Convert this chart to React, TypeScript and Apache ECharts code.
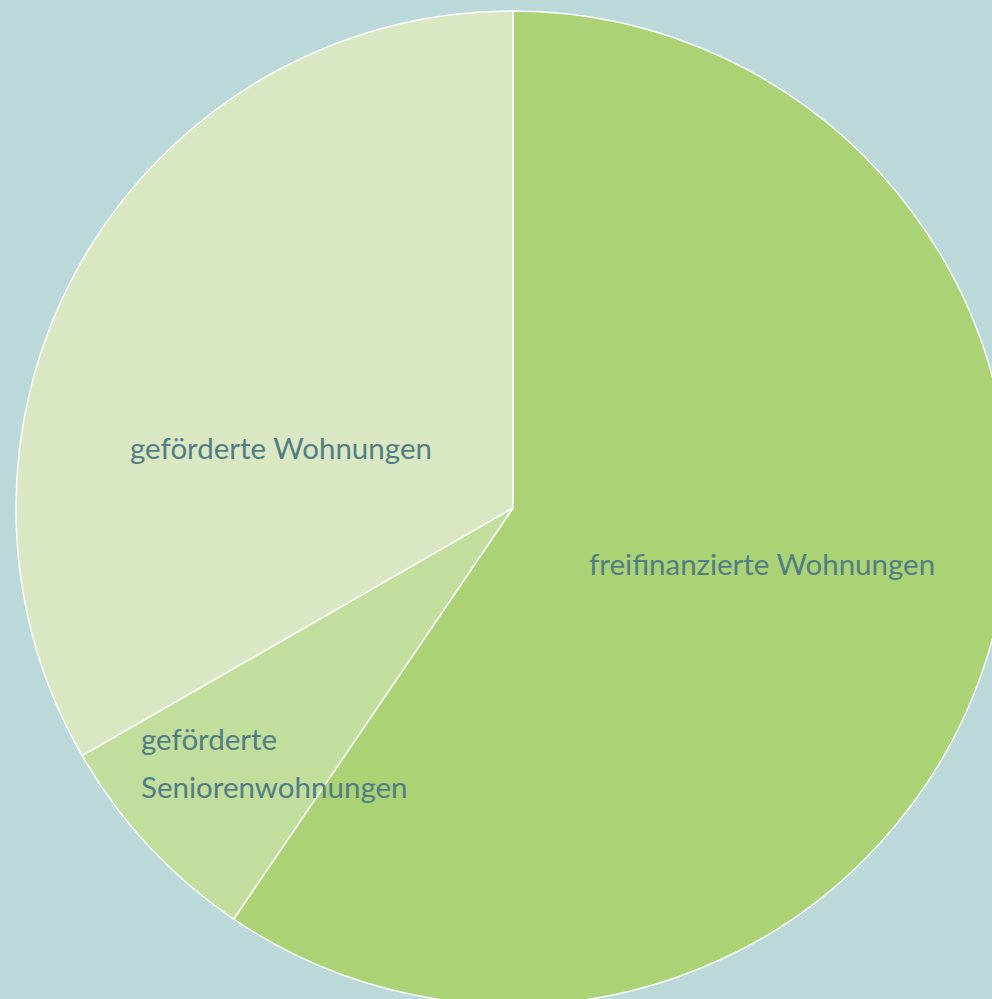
import React, { useEffect, useRef } from "react";
import * as echarts from "echarts";

const categories = ["freifinanzierte Wohnungen", "geförderte\nSeniorenwohnungen", "geförderte Wohnungen"];
const values = [59.5, 7.2, 33.3];
const colors = ["#abd375", "#c2de9c", "#d9e8c2"];

export default function App() {
  const ref = useRef<HTMLDivElement>(null);
  useEffect(() => {
    if (!ref.current) return;
    const chart = echarts.init(ref.current, null, { renderer: "svg" });
    const labelPos = [
      { x: 589, y: 563, align: "left" },
      { x: 141, y: 762, align: "left" },
      { x: 130, y: 447, align: "left" },
    ];
    chart.setOption({
      animation: false,
      backgroundColor: "#bbd9d9",
      series: [
        {
          type: "pie",
          center: [513, 508],
          radius: 497,
          startAngle: 90,
          clockwise: true,
          data: categories.map((name, i) => ({
            name,
            value: values[i],
            itemStyle: { color: colors[i] },
          })),
          itemStyle: { borderColor: "#ffffff", borderWidth: 1.5 },
          label: {
            show: true,
            position: "inside",
            formatter: "{b}",
            color: "#527d84",
            fontFamily: "Lato",
            fontWeight: 400,
            fontSize: 29.5,
            lineHeight: 48,
            align: "left",
          },
          labelLine: { show: false },
          labelLayout: (params: any) => {
            const p = labelPos[params.dataIndex];
            return { x: p.x, y: p.y, align: p.align, verticalAlign: "middle" };
          },
          emphasis: { disabled: true },
        },
      ],
    });
    return () => chart.dispose();
  }, []);
  return (
    <div
      ref={ref}
      style={{ position: "fixed", left: 0, top: 0, width: 992, height: 999 }}
    />
  );
}
